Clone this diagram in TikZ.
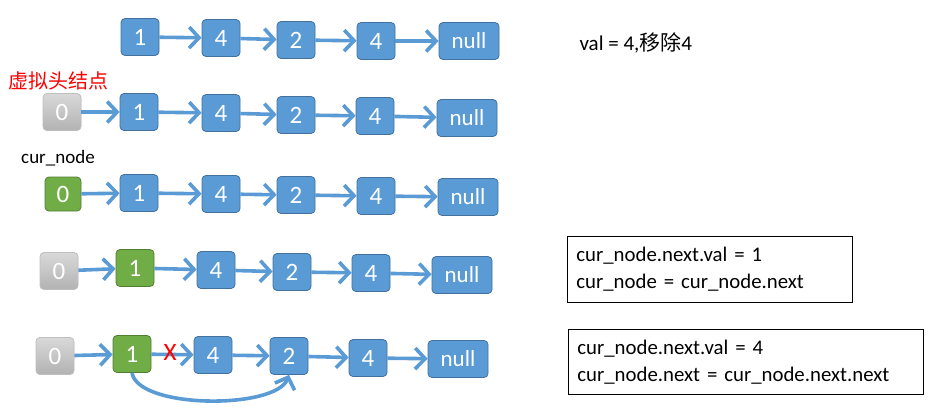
\documentclass[tikz,border=0pt]{standalone}
\usepackage{fontspec}
\setmainfont{Carlito}
\newfontfamily\cjk{Noto Sans CJK SC}
\usetikzlibrary{arrows.meta}

\definecolor{nodeblue}{HTML}{5B9BD5}
\definecolor{blueline}{HTML}{41719C}
\definecolor{nodegreen}{HTML}{70AD47}
\definecolor{greenline}{HTML}{507E32}

\begin{document}
\begin{tikzpicture}[x=1pt,y=-1pt,
  box/.style={draw=blueline, fill=nodeblue, rounded corners=4pt, line width=0.8pt,
    minimum width=38pt, minimum height=37pt, inner sep=0pt, text=white,
    font=\fontsize{25}{25}\selectfont},
  nullbox/.style={box, minimum width=60pt, font=\fontsize{23}{23}\selectfont},
  headbox/.style={box, draw=black!25, top color=black!15, bottom color=black!30},
  curbox/.style={box, draw=greenline, fill=nodegreen},
  link/.style={draw=nodeblue, line width=3.6pt, -{Straight Barb[length=10pt,width=21pt]}},
  note/.style={draw, line width=0.8pt, anchor=north west, align=left, inner xsep=9pt,
    font=\fontsize{20.8}{27}\selectfont}
]
\useasboundingbox (0,0) rectangle (945,416);

\node[box] (a1) at (140,37) {1};
\node[box] (a2) at (221,38) {4};
\node[box] (a3) at (296,40) {2};
\node[box] (a4) at (376,41) {4};
\node[nullbox] (a5) at (469,41) {\raisebox{-4pt}{null}};
\draw[link] (a1) -- (a2);
\draw[link] (a2) -- (a3);
\draw[link] (a3) -- (a4);
\draw[link] (a4) -- (a5);
\node[anchor=west, font=\fontsize{21}{21}\selectfont] (task) at (576,43) {val = 4,{\cjk 移除}4};

\node[red, font=\fontsize{20}{20}\selectfont\cjk] (dummy) at (59,81) {虚拟头结点};
\node[headbox] (b0) at (62,112) {0};
\node[box] (b1) at (139,112) {1};
\node[box] (b2) at (221,113) {4};
\node[box] (b3) at (296,115) {2};
\node[box] (b4) at (375,116) {4};
\node[nullbox] (b5) at (467,118) {\raisebox{-4pt}{null}};
\draw[link] (b0) -- (b1);
\draw[link] (b1) -- (b2);
\draw[link] (b2) -- (b3);
\draw[link] (b3) -- (b4);
\draw[link] (b4) -- (b5);

\node[font=\fontsize{19}{19}\selectfont] (cur) at (58,158) {cur\_node};
\node[curbox, minimum width=36pt, minimum height=34pt] (c0) at (63,194) {0};
\node[box] (c1) at (139,193) {1};
\node[box] (c2) at (221,194) {4};
\node[box] (c3) at (296,195) {2};
\node[box] (c4) at (376,196) {4};
\node[nullbox] (c5) at (468,197) {\raisebox{-4pt}{null}};
\draw[link] (c0) -- (c1);
\draw[link] (c1) -- (c2);
\draw[link] (c2) -- (c3);
\draw[link] (c3) -- (c4);
\draw[link] (c4) -- (c5);

\node[headbox] (d0) at (59,271) {0};
\node[curbox] (d1) at (135,268) {1};
\node[box] (d2) at (216,270) {4};
\node[box] (d3) at (292,272) {2};
\node[box] (d4) at (371,273) {4};
\node[nullbox] (d5) at (462,275) {\raisebox{-4pt}{null}};
\draw[link] (d0) -- (d1);
\draw[link] (d1) -- (d2);
\draw[link] (d2) -- (d3);
\draw[link] (d3) -- (d4);
\draw[link] (d4) -- (d5);
\node[note, minimum width=285pt, minimum height=66pt, text width=267pt] (step1) at (567,236)
  {cur\_node.next.val = 1\\cur\_node = cur\_node.next};

\node[headbox] (e0) at (55,356) {0};
\node[curbox] (e1) at (132,354) {1};
\node[box] (e2) at (213,355) {4};
\node[box] (e3) at (289,356) {2};
\node[box] (e4) at (368,358) {4};
\node[nullbox] (e5) at (458,359) {\raisebox{-4pt}{null}};
\draw[link] (e0) -- (e1);
\draw[link] (e1) -- (e2);
\draw[link] (e2) -- (e3);
\draw[link] (e3) -- (e4);
\draw[link] (e4) -- (e5);
\draw[link] (e1.south) to[out=-80, in=-110, looseness=0.6] (e3.south);
\node[red, font=\fontsize{25}{25}\selectfont] (cut) at (170,352) {X};
\node[note, minimum width=355pt, minimum height=65pt, text width=337pt] (step2) at (568,329)
  {cur\_node.next.val = 4\\cur\_node.next = cur\_node.next.next};
\end{tikzpicture}
\end{document}
